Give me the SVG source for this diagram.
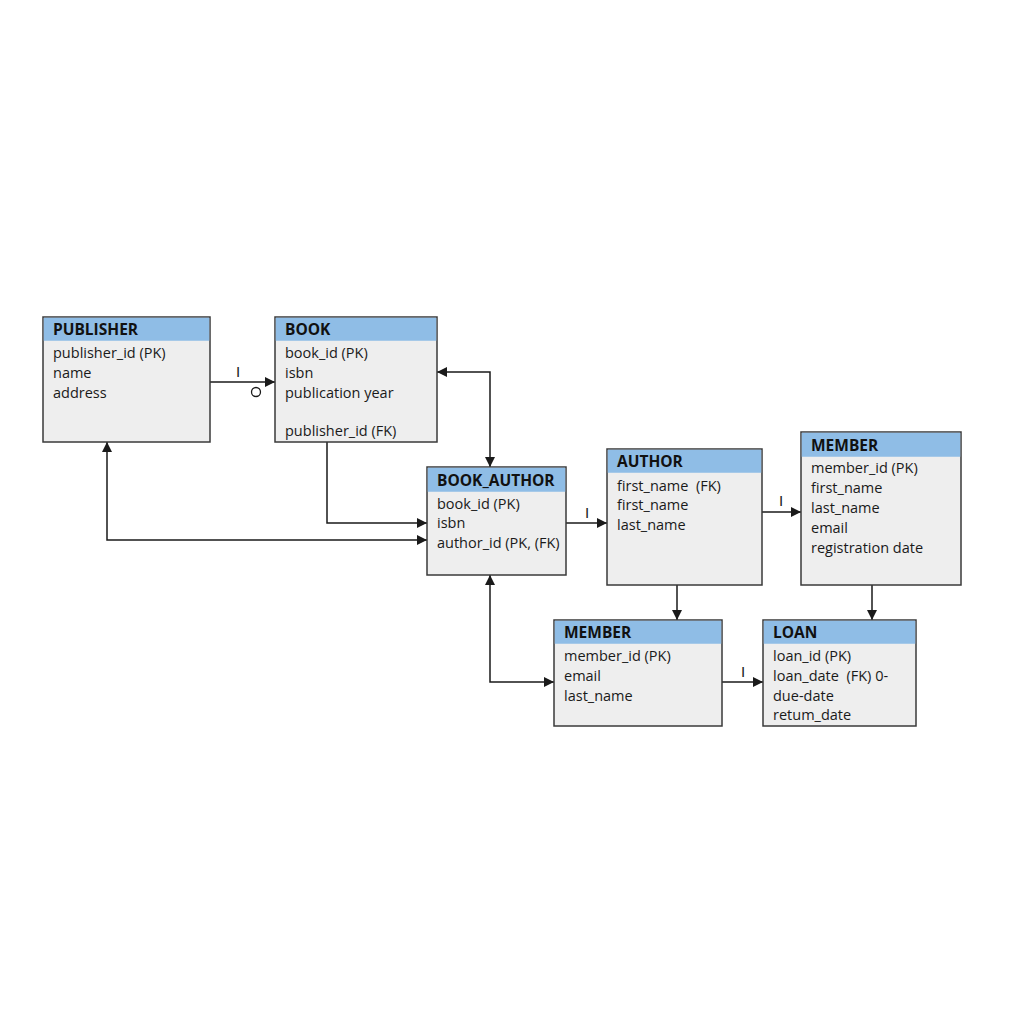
<svg xmlns="http://www.w3.org/2000/svg" width="1024" height="1024" viewBox="0 0 1024 1024">
  <defs>
    <marker id="arrow" viewBox="0 0 10 10" refX="10" refY="5" markerWidth="10" markerHeight="10" markerUnits="userSpaceOnUse" orient="auto-start-reverse">
      <path d="M0,0 L10,5 L0,10 z" fill="#1a1a1a"/>
    </marker>
  </defs>
  <style>
    .box { fill: #eeeeee; stroke: #3a3a3a; stroke-width: 1.5; }
    .hdr { fill: #8fbde6; }
    .title { font-family: "Open Sans", "Liberation Sans", sans-serif; font-size: 15.5px; font-weight: bold; fill: #111; }
    .field { font-family: "Open Sans", "Liberation Sans", sans-serif; font-size: 14.5px; fill: #1a1a1a; white-space: pre; }
    .conn { fill: none; stroke: #1a1a1a; stroke-width: 1.5; }
    .card { font-family: "Liberation Sans", sans-serif; font-size: 15px; fill: #1a1a1a; }
  </style>
  <rect width="1024" height="1024" fill="#ffffff"/>

  <g id="connectors">
    <!-- PUBLISHER to BOOK -->
    <path class="conn" d="M210,382 H275" marker-end="url(#arrow)"/>
    <text class="card" x="236" y="377">I</text>
    <circle cx="256" cy="392" r="4.5" fill="none" stroke="#1a1a1a" stroke-width="1.3"/>
    <!-- BOOK to BOOK_AUTHOR (both ends) -->
    <path class="conn" d="M437,372 H490 V467" marker-start="url(#arrow)" marker-end="url(#arrow)"/>
    <!-- BOOK bottom to BOOK_AUTHOR -->
    <path class="conn" d="M327,442 V523 H427" marker-end="url(#arrow)"/>
    <!-- PUBLISHER to BOOK_AUTHOR -->
    <path class="conn" d="M107,442 V540 H427" marker-start="url(#arrow)" marker-end="url(#arrow)"/>
    <!-- BOOK_AUTHOR to AUTHOR -->
    <path class="conn" d="M566,523 H607" marker-end="url(#arrow)"/>
    <text class="card" x="585" y="518">I</text>
    <!-- AUTHOR to MEMBER -->
    <path class="conn" d="M762,512 H801" marker-end="url(#arrow)"/>
    <text class="card" x="779" y="506">I</text>
    <!-- AUTHOR to lower MEMBER -->
    <path class="conn" d="M677,585 V620" marker-end="url(#arrow)"/>
    <!-- MEMBER to LOAN -->
    <path class="conn" d="M872,585 V620" marker-end="url(#arrow)"/>
    <!-- BOOK_AUTHOR to lower MEMBER -->
    <path class="conn" d="M490,575 V682 H554" marker-start="url(#arrow)" marker-end="url(#arrow)"/>
    <!-- lower MEMBER to LOAN -->
    <path class="conn" d="M722,682 H763" marker-end="url(#arrow)"/>
    <text class="card" x="741" y="677">I</text>
  </g>

  <g id="publisher">
    <rect class="box" x="43" y="317" width="167" height="125"/>
    <rect class="hdr" x="43.75" y="317.75" width="165.5" height="23"/>
    <text class="title" x="53" y="335">PUBLISHER</text>
    <text class="field" x="53" y="358">publisher_id (PK)</text>
    <text class="field" x="53" y="378">name</text>
    <text class="field" x="53" y="398">address</text>
  </g>

  <g id="book">
    <rect class="box" x="275" y="317" width="162" height="125"/>
    <rect class="hdr" x="275.75" y="317.75" width="160.5" height="23"/>
    <text class="title" x="285" y="335">BOOK</text>
    <text class="field" x="285" y="358">book_id (PK)</text>
    <text class="field" x="285" y="378">isbn</text>
    <text class="field" x="285" y="398">publication year</text>
    <text class="field" x="285" y="436">publisher_id (FK)</text>
  </g>

  <g id="book_author">
    <rect class="box" x="427" y="467" width="139" height="108"/>
    <rect class="hdr" x="427.75" y="467.75" width="137.5" height="24"/>
    <text class="title" x="437" y="486">BOOK_AUTHOR</text>
    <text class="field" x="437" y="509">book_id (PK)</text>
    <text class="field" x="437" y="528">isbn</text>
    <text class="field" x="437" y="548">author_id (PK, (FK)</text>
  </g>

  <g id="author">
    <rect class="box" x="607" y="449" width="155" height="136"/>
    <rect class="hdr" x="607.75" y="449.75" width="153.5" height="23"/>
    <text class="title" x="617" y="467">AUTHOR</text>
    <text class="field" x="617" y="491">first_name  (FK)</text>
    <text class="field" x="617" y="510">first_name</text>
    <text class="field" x="617" y="530">last_name</text>
  </g>

  <g id="member_main">
    <rect class="box" x="801" y="432" width="160" height="153"/>
    <rect class="hdr" x="801.75" y="432.75" width="158.5" height="24"/>
    <text class="title" x="811" y="451">MEMBER</text>
    <text class="field" x="811" y="473">member_id (PK)</text>
    <text class="field" x="811" y="493">first_name</text>
    <text class="field" x="811" y="513">last_name</text>
    <text class="field" x="811" y="533">email</text>
    <text class="field" x="811" y="553">registration date</text>
  </g>

  <g id="member_lower">
    <rect class="box" x="554" y="620" width="168" height="106"/>
    <rect class="hdr" x="554.75" y="620.75" width="166.5" height="23"/>
    <text class="title" x="564" y="638">MEMBER</text>
    <text class="field" x="564" y="661">member_id (PK)</text>
    <text class="field" x="564" y="681">email</text>
    <text class="field" x="564" y="701">last_name</text>
  </g>

  <g id="loan">
    <rect class="box" x="763" y="620" width="153" height="106"/>
    <rect class="hdr" x="763.75" y="620.75" width="151.5" height="23"/>
    <text class="title" x="773" y="638">LOAN</text>
    <text class="field" x="773" y="661">loan_id (PK)</text>
    <text class="field" x="773" y="681">loan_date  (FK) 0-</text>
    <text class="field" x="773" y="701">due-date</text>
    <text class="field" x="773" y="720">retum_date</text>
  </g>
</svg>
